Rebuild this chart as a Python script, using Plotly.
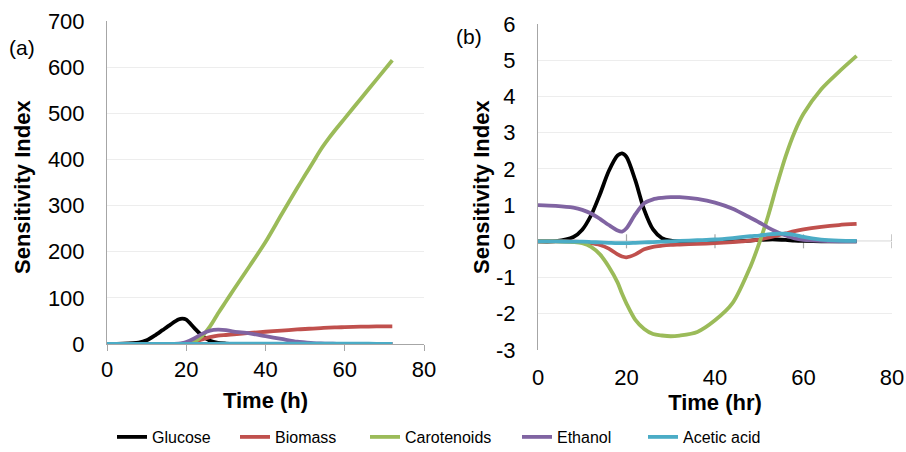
import plotly.graph_objects as go

# ---------------- data ----------------
time_h = [0, 4, 8, 10, 12, 14, 16, 18, 19, 20, 22, 24, 26, 28, 30, 32, 36, 40, 44, 48,
          50, 52, 54, 56, 58, 60, 64, 68, 72]

# Panel (a)
glucose_a = [0, 0.5, 3, 8, 18, 30, 42, 53, 55, 53, 35, 18, 7, 2.5, 1, 0.3, 0.1, 0, 0, 0,
             0, 0, 0, 0, 0, 0, 0, 0, 0]
biomass_a = [0, 0, 0, 0, 0, 0, 0, 0, 0.5, 1, 5, 10, 15, 18, 19.5, 21, 24, 26.5, 29, 31.5,
             32.5, 33.5, 34.5, 35.5, 36, 36.5, 37.5, 38, 38]
carotenoids_a = [0, 0, 0, 0, 0, 0, 0, 0, 0, 0.5, 5, 17, 38, 66, 92, 118, 169, 221, 280, 338,
                 366, 394, 422, 446, 468, 489, 531, 573, 615]
ethanol_a = [0, 0, 0, 0, 0, 0, 0, 1, 2, 4, 12, 22, 29, 31, 30, 27, 23, 17, 11, 5,
             3.5, 2, 1.2, 0.7, 0.3, 0.1, 0, 0, 0]
acetic_a = [0, 0, 0, 0, 0, 0.1, 0.1, 0.2, 0.2, 0.3, 0.3, 0.4, 0.4, 0.5, 0.5, 0.6, 0.7, 0.8, 0.9, 1,
            1, 1, 1, 1, 1, 0.8, 0.6, 0.4, 0.3]

# Panel (b)
glucose_b = [0, 0.005, 0.12, 0.32, 0.72, 1.3, 1.94, 2.37, 2.43, 2.33, 1.68, 0.87, 0.33, 0.09, 0.02, 0, 0, 0, 0, 0.02,
             0.04, 0.05, 0.05, 0.04, 0.02, 0.01, 0, 0, 0]
biomass_b = [0, 0, -0.01, -0.02, -0.05, -0.1, -0.2, -0.36, -0.42, -0.44, -0.36, -0.22, -0.15, -0.12, -0.1, -0.09, -0.07, -0.05, -0.02, 0.02,
             0.05, 0.1, 0.16, 0.22, 0.28, 0.33, 0.4, 0.45, 0.48]
carotenoids_b = [0, 0, -0.02, -0.05, -0.15, -0.36, -0.7, -1.14, -1.45, -1.72, -2.17, -2.42, -2.56, -2.6, -2.62, -2.6, -2.5, -2.18, -1.7, -0.7,
                 -0.05, 0.7, 1.56, 2.36, 3.02, 3.52, 4.2, 4.68, 5.12]
ethanol_b = [1.0, 0.98, 0.93, 0.87, 0.77, 0.62, 0.45, 0.3, 0.27, 0.36, 0.75, 1.05, 1.16, 1.2, 1.22, 1.22, 1.17, 1.07, 0.9, 0.65,
             0.52, 0.38, 0.26, 0.16, 0.08, 0.04, 0.01, 0, 0]
acetic_b = [0, 0, -0.01, -0.01, -0.02, -0.03, -0.04, -0.05, -0.05, -0.05, -0.04, -0.03, -0.02, -0.01, 0, 0.01, 0.03, 0.05, 0.09, 0.14,
            0.16, 0.19, 0.21, 0.21, 0.18, 0.12, 0.05, 0.02, 0.01]

series_names = ["Glucose", "Biomass", "Carotenoids", "Ethanol", "Acetic acid"]
series_colors = ["#000000", "#C0504D", "#9BBB59", "#8064A2", "#4BACC6"]
panel_a = [glucose_a, biomass_a, carotenoids_a, ethanol_a, acetic_a]
panel_b = [glucose_b, biomass_b, carotenoids_b, ethanol_b, acetic_b]

x_ticks = [0, 20, 40, 60, 80]
y_ticks_a = [0, 100, 200, 300, 400, 500, 600, 700]
y_ticks_b = [-3, -2, -1, 0, 1, 2, 3, 4, 5, 6]
y_ticktext_b = ["-3", "-2", "-1", "0", "1", "2", "3", "4", "5", "6"]

# ---------------- figure ----------------
W, H = 906, 452
fig = go.Figure()

legend_ids = ["legend", "legend2", "legend3", "legend4", "legend5"]
legend_line_starts = [117, 240, 370, 522, 648]   # pixel x of each legend entry

for name, color, ya, yb, lg in zip(series_names, series_colors, panel_a, panel_b, legend_ids):
    fig.add_trace(go.Scatter(x=time_h, y=ya, mode="lines", name=name,
                             line=dict(color=color, width=3.8, shape="spline", smoothing=0.8),
                             xaxis="x", yaxis="y", legendgroup=name, showlegend=True, legend=lg))
    fig.add_trace(go.Scatter(x=time_h, y=yb, mode="lines", name=name,
                             line=dict(color=color, width=3.8, shape="spline", smoothing=0.8),
                             xaxis="x2", yaxis="y2", legendgroup=name, showlegend=False))

tick_font = dict(family="Liberation Sans, Arial, sans-serif", size=22, color="#000000")
title_font = dict(family="Liberation Sans, Arial, sans-serif", size=22, color="#000000")
legend_font = dict(family="Liberation Sans, Arial, sans-serif", size=16, color="#000000")
axis_gray = "#A6A6A6"
grid_gray = "#EDEDED"
clear = "rgba(0,0,0,0)"

def px(xp):
    return xp / W

def py(yp):
    return 1 - yp / H

legend_layout = {}
for lg, xs in zip(legend_ids, legend_line_starts):
    legend_layout[lg] = dict(orientation="h", x=px(xs - 5), xanchor="left", y=py(437), yanchor="middle",
                             font=legend_font, itemwidth=30, bgcolor=clear)

fig.update_layout(
    width=W, height=H,
    margin=dict(l=0, r=0, t=0, b=0, autoexpand=False),
    paper_bgcolor="white", plot_bgcolor="white",
    showlegend=True,
    xaxis=dict(domain=[px(107), px(424)], range=[0, 80], tickvals=x_ticks,
               showline=True, linecolor=axis_gray, linewidth=1,
               ticks="outside", ticklen=6, tickcolor=axis_gray,
               showgrid=False, zeroline=False, tickfont=tick_font, automargin=False,
               title=dict(text="<b>Time (h)</b>", font=title_font, standoff=11),
               anchor="y"),
    yaxis=dict(domain=[py(344), py(21)], range=[0, 700], tickvals=y_ticks_a,
               showline=True, linecolor=axis_gray, linewidth=1,
               ticks="outside", ticklen=17, tickcolor=clear,
               showgrid=True, gridcolor=grid_gray, gridwidth=1,
               zeroline=False, tickfont=tick_font, automargin=False,
               anchor="x"),
    xaxis2=dict(domain=[px(538), px(892)], range=[0, 80], tickvals=x_ticks,
                showline=False, ticks="", showgrid=False, zeroline=False,
                tickfont=tick_font, ticklabelstandoff=12, automargin=False,
                title=dict(text="<b>Time (hr)</b>", font=title_font, standoff=0),
                anchor="y2"),
    yaxis2=dict(domain=[py(350), py(24)], range=[-3, 6], tickvals=y_ticks_b, ticktext=y_ticktext_b,
                showline=True, linecolor=axis_gray, linewidth=1,
                ticks="outside", ticklen=17, tickcolor=clear,
                showgrid=True, gridcolor=grid_gray, gridwidth=1,
                zeroline=False, tickfont=tick_font, automargin=False,
                anchor="x2"),
    **legend_layout,
)

shapes = [dict(type="line", xref="x2", yref="y2", x0=x_ticks[0], x1=x_ticks[-1], y0=0, y1=0,
               line=dict(color=axis_gray, width=1.2), layer="below")]
for t in x_ticks[1:]:
    shapes.append(dict(type="line", xref="x2", yref="y2", x0=t, x1=t,
                       ysizemode="pixel", yanchor=0, y0=-7, y1=7,
                       line=dict(color=axis_gray, width=1.2), layer="below"))
fig.update_layout(shapes=shapes)

# y-axis titles
fig.add_annotation(text="<b>Sensitivity Index</b>", xref="paper", yref="paper",
                   x=px(23), y=py(187), xanchor="center", yanchor="middle",
                   textangle=-90, showarrow=False, font=title_font)
fig.add_annotation(text="<b>Sensitivity Index</b>", xref="paper", yref="paper",
                   x=px(482), y=py(187), xanchor="center", yanchor="middle",
                   textangle=-90, showarrow=False, font=title_font)

panel_font = dict(family="Liberation Sans, Arial, sans-serif", size=21, color="#000000")
fig.add_annotation(text="(a)", xref="paper", yref="paper", x=px(21.5), y=py(47.5),
                   xanchor="center", yanchor="middle", showarrow=False, font=panel_font)
fig.add_annotation(text="(b)", xref="paper", yref="paper", x=px(469), y=py(36),
                   xanchor="center", yanchor="middle", showarrow=False, font=panel_font)

fig.write_html("out.html", config={"displayModeBar": False},
               post_script="document.body.style.margin='0px';document.body.style.overflow='hidden';")
